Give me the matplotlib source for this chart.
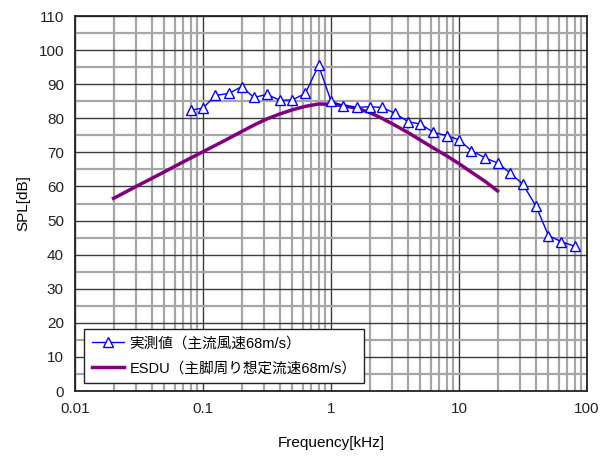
import matplotlib
matplotlib.use("Agg")
import matplotlib.pyplot as plt
from matplotlib.ticker import LogLocator, MultipleLocator, FixedFormatter, FixedLocator, NullFormatter

plt.rcParams['font.family'] = ['Liberation Sans', 'Noto Sans CJK JP', 'DejaVu Sans']

# measured 1/3 octave band data
freq = [0.08, 0.1, 0.125, 0.16, 0.2, 0.25, 0.315, 0.4, 0.5, 0.63, 0.8, 1.0, 1.25, 1.6, 2.0, 2.5,
        3.15, 4.0, 5.0, 6.3, 8.0, 10.0, 12.5, 16.0, 20.0, 25.0, 31.5, 40.0, 50.0, 63.0, 80.0]
spl = [82.4, 83.0, 86.7, 87.3, 89.3, 86.1, 87.0, 85.3, 85.4, 87.3, 95.5, 85.1, 83.6, 83.2, 83.4, 83.2,
       81.5, 79.0, 78.3, 75.9, 74.9, 73.7, 70.5, 68.4, 66.9, 64.0, 60.7, 54.2, 45.6, 43.8, 42.5]

# ESDU estimate
esdu_freq = [0.02, 0.03, 0.05, 0.07, 0.1, 0.15, 0.2, 0.25, 0.315, 0.4, 0.5, 0.63, 0.8, 1.0, 1.25,
             1.6, 2.0, 2.5, 3.15, 4.0, 5.0, 6.3, 8.0, 10.0, 12.5, 16.0, 20.0]
esdu_spl = [56.5, 60.0, 64.3, 67.2, 70.2, 73.6, 76.1, 78.0, 79.8, 81.3, 82.5, 83.5, 84.2, 84.1, 83.7,
            82.9, 81.7, 80.0, 78.0, 75.8, 73.6, 71.3, 69.0, 66.7, 64.2, 61.5, 58.7]

label1 = "実測値（主流風速68m/s）"
label2 = "ESDU（主脚周り想定流速68m/s）"

fig = plt.figure(figsize=(6.01, 4.59), dpi=100)
ax = fig.add_axes([0.1248, 0.1481, 0.8519, 0.8170])

ax.plot(freq, spl, color="#0000ff", lw=1.0, marker="^", mfc="white", mec="#0000ff",
        ms=7, mew=1.0, label=label1, zorder=4)
ax.plot(esdu_freq, esdu_spl, color="#800080", lw=2.5, label=label2, zorder=3)

ax.set_xscale("log")
ax.set_xlim(0.01, 100)
ax.set_ylim(0, 110)
ax.xaxis.set_major_locator(FixedLocator([0.01, 0.1, 1, 10, 100]))
ax.xaxis.set_major_formatter(FixedFormatter(["0.01", "0.1", "1", "10", "100"]))
ax.xaxis.set_minor_locator(LogLocator(base=10, subs=range(2, 10)))
ax.xaxis.set_minor_formatter(NullFormatter())
ax.yaxis.set_major_locator(MultipleLocator(10))
ax.yaxis.set_minor_locator(MultipleLocator(5))

ax.grid(which="minor", color="#a6a6a6", lw=1.6, zorder=0)
ax.grid(which="major", color="#3a3a3a", lw=1.0, zorder=1)
ax.set_axisbelow(True)
ax.tick_params(which="both", length=0, labelsize=11, pad=8, colors="#222222")
for s in ax.spines.values():
    s.set_color("#222222")
    s.set_linewidth(1.3)

ax.set_xlabel("Frequency[kHz]", fontsize=11, labelpad=14)
ax.set_ylabel("SPL[dB]", fontsize=11, labelpad=6)

leg = ax.legend(loc="lower left", bbox_to_anchor=(0.018, 0.022), fontsize=10.5, frameon=True,
                fancybox=False, edgecolor="#222222", framealpha=1, handlelength=2.2,
                borderpad=0.5, labelspacing=0.75, handletextpad=0.4, borderaxespad=0.0)
leg.get_frame().set_linewidth(1.0)
for t in leg.get_texts():
    t.set_family(['Liberation Sans', 'Noto Sans CJK JP', 'DejaVu Sans'])

fig.savefig("out.png", dpi=100)
